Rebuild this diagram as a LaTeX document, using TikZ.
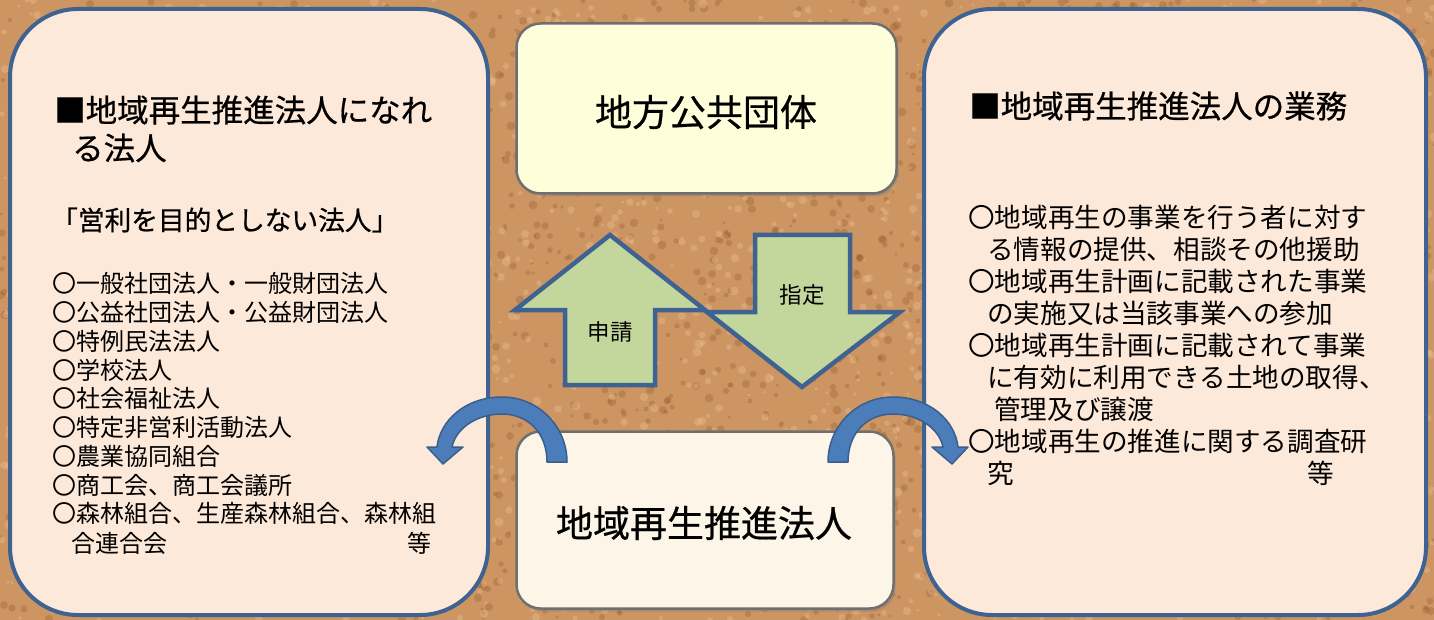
\documentclass[tikz,border=0pt]{standalone}
\usepackage{fontspec}
\setmainfont{Noto Sans CJK JP}
\newfontfamily\jpheavy[FakeBold=0.6]{Noto Sans CJK JP}
\usetikzlibrary{shadows}
\definecolor{cork}{HTML}{CD9562}
\definecolor{corkdark}{HTML}{8E5327}
\definecolor{corklight}{HTML}{EDC597}
\definecolor{peach}{HTML}{FDE9D9}
\definecolor{frame}{HTML}{3E6291}
\definecolor{govfill}{HTML}{FEFEDA}
\definecolor{corpfill}{HTML}{FDF6E8}
\definecolor{greyedge}{HTML}{6F6F6F}
\definecolor{arrowfill}{HTML}{C3D69B}
\definecolor{curvefill}{HTML}{4B7DBA}
\definecolor{curveedge}{HTML}{3A5E8E}
\begin{document}
\begin{tikzpicture}[x=1pt,y=-1pt,
  jt/.style={font=\fontsize{#1pt}{#1pt}\selectfont, inner sep=0pt, text height={0.88*#1pt}, text depth={0.12*#1pt}},
  jh/.style={font=\jpheavy\fontsize{#1pt}{#1pt}\selectfont, inner sep=0pt, text height={0.88*#1pt}, text depth={0.12*#1pt}},
  lw/.style={jt=#1, anchor=west},
  le/.style={jt=#1, anchor=east},
  hw/.style={jh=#1, anchor=west},
  bigbox/.style={draw=frame, line width=4pt, fill=peach, rounded corners=68pt, minimum height=606pt, inner sep=0pt},
  midbox/.style={draw=greyedge, line width=2.5pt, rounded corners=24pt, inner sep=0pt, drop shadow={opacity=0.45, shadow xshift=2pt, shadow yshift=-3pt}},
  fatarrow/.style={draw=frame, line width=4.5pt, fill=arrowfill, miter limit=10},
  curvearrow/.style={draw=curveedge, line width=1.5pt, fill=curvefill, line join=round},
]
\useasboundingbox (0,0) rectangle (1434,620);
% cork background
\fill[cork] (0,0) rectangle (1434,620);
\pgfmathsetseed{4242}
\foreach \i in {1,...,2200}{
  \pgfmathsetmacro\xx{random(0,1434)}
  \pgfmathsetmacro\yy{random(0,620)}
  \pgfmathsetmacro\rr{1.5+3*rnd}
  \fill[corkdark, opacity=0.28] (\xx,\yy) circle[radius=\rr pt];
}
\foreach \i in {1,...,2000}{
  \pgfmathsetmacro\xx{random(0,1434)}
  \pgfmathsetmacro\yy{random(0,620)}
  \pgfmathsetmacro\rr{1.5+3*rnd}
  \fill[corklight, opacity=0.35] (\xx,\yy) circle[radius=\rr pt];
}

% side boxes
\node[bigbox, minimum width=478pt] (leftbox) at (249,312) {};
\node[bigbox, minimum width=502pt] (rightbox) at (1175,312) {};

% centre boxes
\node[midbox, fill=govfill, minimum width=380pt, minimum height=170pt] (govbox) at (706.5,108.5) {};
\node[midbox, fill=corpfill, minimum width=377pt, minimum height=177pt] (corpbox) at (705,520) {};
\node[jh=37] (govtext) at (706,112) {地方公共団体};
\node[jh=37] (corptext) at (704,523) {地域再生推進法人};

% block arrows
\draw[fatarrow] (565,385) -- (565,310) -- (515,310) -- (610,235) -- (705,310) -- (655,310) -- (655,385) -- cycle;
\draw[fatarrow] (755,235) -- (850,235) -- (850,312) -- (900,312) -- (802,387) -- (707,312) -- (755,312) -- cycle;
\node[jt=22.5] (shinsei) at (610,332) {申請};
\node[jt=22.5] (shitei) at (802,295) {指定};

% curved arrows
\draw[curvearrow] (567,462) .. controls (567,426) and (538,397) .. (502,397)
  .. controls (466,397) and (440,420) .. (437,447) -- (427,447) -- (443,464) -- (463,447) -- (452,447)
  .. controls (456,428) and (477,414) .. (502,414) .. controls (527,414) and (547,432) .. (547,462) -- cycle;
\draw[curvearrow] (828,462) .. controls (828,426) and (857,397) .. (893,397)
  .. controls (929,397) and (955,420) .. (958,447) -- (968,447) -- (952,464) -- (932,447) -- (943,447)
  .. controls (939,428) and (918,414) .. (893,414) .. controls (868,414) and (848,432) .. (848,462) -- cycle;

% left box text
\node[hw=31.5] (lt1) at (54,110) {■地域再生推進法人になれ};
\node[hw=31.5] (lt2) at (72,148) {る法人};
\node[hw=26.7] (lsub) at (51,220) {「営利を目的としない法人」};
\node[lw=24] (l1) at (52,283) {〇一般社団法人・一般財団法人};
\node[lw=24] (l2) at (52,312) {〇公益社団法人・公益財団法人};
\node[lw=24] (l3) at (52,341) {〇特例民法法人};
\node[lw=24] (l4) at (52,370) {〇学校法人};
\node[lw=24] (l5) at (52,398) {〇社会福祉法人};
\node[lw=24] (l6) at (52,427) {〇特定非営利活動法人};
\node[lw=24] (l7) at (52,456) {〇農業協同組合};
\node[lw=24] (l8) at (52,485) {〇商工会、商工会議所};
\node[lw=24] (l9) at (52,513) {〇森林組合、生産森林組合、森林組};
\node[lw=24] (l10) at (71,543) {合連合会};
\node[le=24] (letc) at (432,543) {等};

% right box text
\node[hw=31.5] (rt1) at (969,106) {■地域再生推進法人の業務};
\node[lw=26.6] (r1) at (968,217) {〇地域再生の事業を行う者に対す};
\node[lw=26.6] (r2) at (987,249) {る情報の提供、相談その他援助};
\node[lw=26.6] (r3) at (968,281) {〇地域再生計画に記載された事業};
\node[lw=26.6] (r4) at (987,313) {の実施又は当該事業への参加};
\node[lw=26.6] (r5) at (968,345) {〇地域再生計画に記載されて事業};
\node[lw=26.6] (r6) at (987,377) {に有効に利用できる土地の取得、};
\node[lw=26.6] (r7) at (994,409) {管理及び譲渡};
\node[lw=26.6] (r8) at (968,441) {〇地域再生の推進に関する調査研};
\node[lw=26.6] (r9) at (987,473) {究};
\node[le=26.6] (retc) at (1334,473) {等};
\end{tikzpicture}
\end{document}
